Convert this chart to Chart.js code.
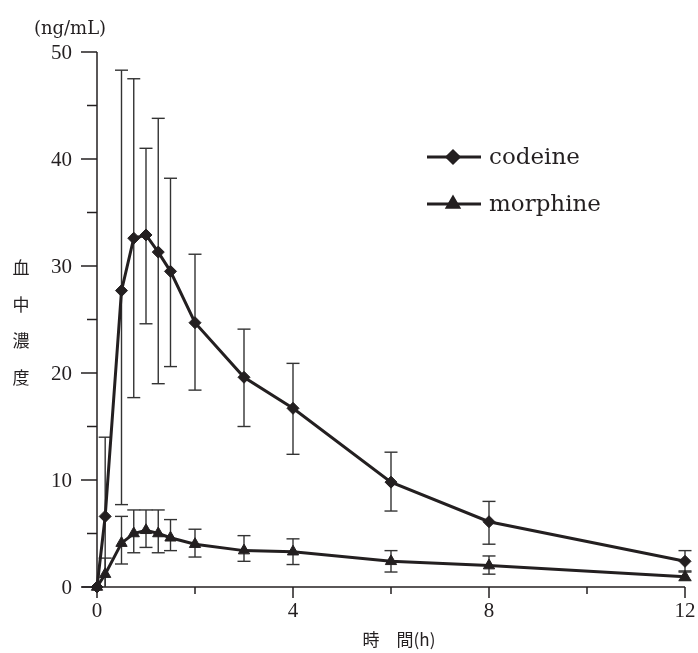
<!DOCTYPE html>
<html><head><meta charset="utf-8">
<script src="https://cdn.jsdelivr.net/npm/chart.js@4"></script>
<style>html,body{margin:0;padding:0;background:#fff}</style>
</head><body>
<canvas id="c" width="698" height="653"></canvas>
<script>
// ---- data ----
const timeHours = [0, 0.167, 0.5, 0.75, 1, 1.25, 1.5, 2, 3, 4, 6, 8, 12];
const codeine      = [0, 6.6, 27.7, 32.6, 32.9, 31.3, 29.5, 24.7, 19.6, 16.7, 9.8, 6.1, 2.4];
const codeineUpper = [null, 14.0, 48.3, 47.5, 41.0, 43.8, 38.2, 31.1, 24.1, 20.9, 12.6, 8.0, 3.4];
const codeineLower = [null, 0, 7.7, 17.7, 24.6, 19.0, 20.6, 18.4, 15.0, 12.4, 7.1, 4.0, 1.4];
const morphine      = [0, 1.2, 4.1, 5.0, 5.3, 5.0, 4.6, 4.0, 3.4, 3.3, 2.4, 2.0, 0.95];
const morphineUpper = [null, 2.7, 6.6, 7.2, 7.2, 7.2, 6.3, 5.4, 4.8, 4.5, 3.4, 2.9, 1.5];
const morphineLower = [null, 0, 2.15, 3.2, 3.7, 3.2, 3.4, 2.8, 2.4, 2.1, 1.4, 1.2, 0.6];
const seriesNames = ['codeine', 'morphine'];
const yTickLabels = [0, 10, 20, 30, 40, 50];
const yMinorTicks = [5, 15, 25, 35, 45];
const xTickLabels = [0, 4, 8, 12];
const xMinorTicks = [2, 6, 10];
const yUnitLabel = '(ng/mL)';
const yTitleChars = ['血', '中', '濃', '度'];
const xTitle = '時　間(h)';

const INK = '#231f20';
const NUM_FONT = '21px "Liberation Serif", "DejaVu Serif", serif';

const errorBars = [
  {upper: codeineUpper, lower: codeineLower},
  {upper: morphineUpper, lower: morphineLower}
];

const axesPlugin = {
  id: 'axes',
  beforeDatasetsDraw(chart) {
    const {ctx, scales: {x, y}} = chart;
    ctx.save();
    ctx.strokeStyle = INK;
    ctx.fillStyle = INK;
    ctx.lineWidth = 1.5;
    const x0 = x.getPixelForValue(0), y0 = y.getPixelForValue(0);
    ctx.beginPath();
    ctx.moveTo(x0, y.getPixelForValue(50));
    ctx.lineTo(x0, y0);
    ctx.stroke();
    ctx.beginPath();
    ctx.moveTo(x0 - 15, y0);
    ctx.lineTo(x.getPixelForValue(12), y0);
    ctx.stroke();
    yTickLabels.forEach(v => {
      const py = y.getPixelForValue(v);
      ctx.beginPath(); ctx.moveTo(x0 - 16, py); ctx.lineTo(x0, py); ctx.stroke();
    });
    yMinorTicks.forEach(v => {
      const py = y.getPixelForValue(v);
      ctx.beginPath(); ctx.moveTo(x0 - 10, py); ctx.lineTo(x0, py); ctx.stroke();
    });
    xTickLabels.forEach(v => {
      const px = x.getPixelForValue(v);
      ctx.beginPath(); ctx.moveTo(px, y0); ctx.lineTo(px, y0 + 11); ctx.stroke();
    });
    xMinorTicks.forEach(v => {
      const px = x.getPixelForValue(v);
      ctx.beginPath(); ctx.moveTo(px, y0); ctx.lineTo(px, y0 + 7); ctx.stroke();
    });
    ctx.font = NUM_FONT;
    ctx.textAlign = 'right'; ctx.textBaseline = 'middle';
    yTickLabels.forEach(v => ctx.fillText(String(v), x0 - 25, y.getPixelForValue(v) + 1));
    ctx.textAlign = 'center'; ctx.textBaseline = 'middle';
    xTickLabels.forEach(v => ctx.fillText(String(v), x.getPixelForValue(v), y0 + 24));
    ctx.font = '18px "DejaVu Serif", "Liberation Serif", serif';
    ctx.textAlign = 'center';
    ctx.fillText(yUnitLabel, 70, 29);
    ctx.font = '17px "Noto Sans CJK JP", sans-serif';
    yTitleChars.forEach((ch, i) => ctx.fillText(ch, 21, 268 + i * 36.5));
    ctx.font = '17px "Noto Sans CJK JP", sans-serif';
    ctx.fillText(xTitle, (x0 + x.getPixelForValue(12)) / 2 + 8, 640);
    ctx.restore();
  }
};

const errorBarPlugin = {
  id: 'errorBars',
  beforeDatasetsDraw(chart) {
    const {ctx, scales: {x, y}} = chart;
    ctx.save();
    ctx.strokeStyle = '#333';
    ctx.lineWidth = 1.4;
    errorBars.forEach(eb => {
      timeHours.forEach((t, i) => {
        if (eb.upper[i] == null) return;
        const px = x.getPixelForValue(t);
        const pu = y.getPixelForValue(eb.upper[i]);
        const pl = y.getPixelForValue(Math.max(0, eb.lower[i]));
        ctx.beginPath(); ctx.moveTo(px, pu); ctx.lineTo(px, pl); ctx.stroke();
        ctx.beginPath(); ctx.moveTo(px - 6.5, pu); ctx.lineTo(px + 6.5, pu); ctx.stroke();
        if (eb.lower[i] > 0) {
          ctx.beginPath(); ctx.moveTo(px - 6.5, pl); ctx.lineTo(px + 6.5, pl); ctx.stroke();
        }
      });
    });
    ctx.restore();
  }
};

const legendPlugin = {
  id: 'customLegend',
  afterDatasetsDraw(chart) {
    const {ctx} = chart;
    ctx.save();
    const rows = [{y: 157, style: 'rectRot', r: 6}, {y: 204, style: 'triangle', r: 6.5}];
    chart.data.datasets.forEach((ds, i) => {
      const ry = rows[i].y;
      ctx.strokeStyle = INK; ctx.lineWidth = 3;
      ctx.beginPath(); ctx.moveTo(427, ry); ctx.lineTo(481, ry); ctx.stroke();
      ctx.fillStyle = INK;
      Chart.helpers.drawPoint(ctx, {pointStyle: rows[i].style, radius: rows[i].r, borderWidth: 1}, 453, ry);
      ctx.fill();
      ctx.font = '23px "DejaVu Serif", "Liberation Serif", serif';
      ctx.textAlign = 'left'; ctx.textBaseline = 'alphabetic';
      ctx.fillText(seriesNames[i], 489, ry + 7);
    });
    ctx.restore();
  }
};

new Chart(document.getElementById('c'), {
  type: 'line',
  data: {
    datasets: [
      {
        label: seriesNames[0],
        data: timeHours.map((t, i) => ({x: t, y: codeine[i]})),
        borderColor: INK, backgroundColor: INK, borderWidth: 3,
        pointStyle: 'rectRot', pointRadius: 6, pointBorderWidth: 1,
        pointBackgroundColor: INK, pointBorderColor: INK, clip: false
      },
      {
        label: seriesNames[1],
        data: timeHours.map((t, i) => ({x: t, y: morphine[i]})),
        borderColor: INK, backgroundColor: INK, borderWidth: 3,
        pointStyle: 'triangle', pointRadius: 6.5, pointBorderWidth: 1,
        pointBackgroundColor: INK, pointBorderColor: INK, clip: false
      }
    ]
  },
  options: {
    responsive: false,
    animation: false,
    devicePixelRatio: 1,
    layout: {padding: {left: 97, right: 13, top: 52, bottom: 66}},
    scales: {
      x: {type: 'linear', min: 0, max: 12, display: false},
      y: {type: 'linear', min: 0, max: 50, display: false}
    },
    elements: {line: {tension: 0}},
    plugins: {legend: {display: false}, tooltip: {enabled: false}}
  },
  plugins: [axesPlugin, errorBarPlugin, legendPlugin]
});
</script>
</body></html>
